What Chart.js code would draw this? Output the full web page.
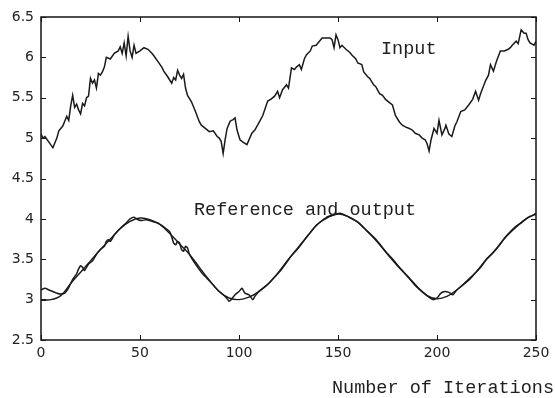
<!DOCTYPE html>
<html>
<head>
<meta charset="utf-8">
<script src="https://cdn.jsdelivr.net/npm/chart.js@4"></script>
<style>
  html, body { margin: 0; padding: 0; background: #fff; }
  #chart { display: block; }
</style>
</head>
<body>
<canvas id="chart" width="555" height="398"></canvas>
<script>
// values
const inputIterations = [
  0, 1, 2, 4, 6, 8, 9, 11, 13, 14, 15, 16, 17, 18, 19, 20, 21, 22, 23, 24,
  25, 26, 27, 28, 29, 30, 31, 32, 33, 35, 37, 39, 40, 41, 42, 43, 44, 45, 46, 47,
  48, 50, 52, 54, 56, 57, 59, 61, 62, 64, 66, 67, 68, 69, 70, 71, 72, 73, 74, 76,
  78, 80, 81, 83, 85, 87, 89, 90, 91, 92, 93, 94, 95.5, 97, 98, 99, 100.5, 102, 104, 106.5,
  108, 110.5, 112, 114.5, 116, 118, 119.5, 120.5, 122, 124, 125, 126.5, 128, 129, 130.5, 131.5, 133, 134, 136, 137,
  139, 140, 142, 144, 146, 147, 148, 149, 150, 151, 152, 154, 156, 157, 159, 160, 162, 163, 165, 166,
  168, 169, 171, 172.5, 174, 176, 177.5, 179, 181, 182.5, 184, 186, 187.5, 189, 191, 192.5, 194, 195, 196, 197,
  198.5, 200, 201, 202.5, 204, 204.5, 206, 207.5, 209, 210, 212, 214, 216, 218, 219.5, 221, 222, 224.5, 226, 227,
  228.5, 230, 232, 234, 236, 237, 238, 240, 241, 242.5, 244, 245, 246, 247, 249, 250
];
const inputValues = [
  5.05, 5.0, 5.02, 4.95, 4.88, 5.0, 5.09, 5.15, 5.27, 5.22, 5.4, 5.53, 5.38, 5.42, 5.35, 5.3, 5.43, 5.4, 5.5, 5.52,
  5.74, 5.68, 5.72, 5.62, 5.8, 5.78, 5.82, 5.88, 6.0, 5.98, 6.05, 6.08, 6.13, 6.05, 6.18, 6.02, 6.26, 6.08, 6.0, 6.15,
  6.05, 6.08, 6.12, 6.1, 6.05, 6.02, 5.95, 5.88, 5.83, 5.76, 5.68, 5.75, 5.72, 5.84, 5.78, 5.74, 5.79, 5.62, 5.53, 5.45,
  5.33, 5.2, 5.16, 5.12, 5.08, 5.09, 5.02, 5.0, 4.96, 4.81, 4.98, 5.12, 5.21, 5.23, 5.25, 5.1, 4.98, 4.95, 4.92, 5.06,
  5.1, 5.21, 5.28, 5.46, 5.48, 5.52, 5.58, 5.5, 5.6, 5.66, 5.62, 5.87, 5.85, 5.88, 5.91, 5.85, 5.98, 6.03, 6.08, 6.14,
  6.15, 6.18, 6.24, 6.24, 6.24, 6.22, 6.12, 6.28, 6.22, 6.12, 6.15, 6.1, 6.06, 6.03, 5.98, 5.93, 5.91, 5.82, 5.76, 5.74,
  5.66, 5.64, 5.55, 5.53, 5.48, 5.44, 5.41, 5.28, 5.2, 5.16, 5.14, 5.12, 5.1, 5.06, 5.04, 5.0, 4.98, 4.93, 4.84, 4.98,
  5.12, 5.06, 5.22, 5.04, 5.12, 5.16, 5.05, 5.02, 5.15, 5.2, 5.33, 5.35, 5.41, 5.48, 5.58, 5.47, 5.55, 5.71, 5.78, 5.91,
  5.83, 5.95, 6.08, 6.08, 6.1, 6.12, 6.15, 6.2, 6.17, 6.34, 6.3, 6.3, 6.22, 6.18, 6.15, 6.2
];

const referenceIterations = [
  0, 5, 10, 15, 20, 25, 30, 35, 40, 45, 50, 55, 60, 65, 70, 75, 80, 85, 90, 95,
  100, 105, 110, 115, 120, 125, 130, 135, 140, 145, 150, 155, 160, 165, 170, 175, 180, 185, 190, 195,
  200, 205, 210, 215, 220, 225, 230, 235, 240, 245, 250
];
const referenceValues = [
  3.0, 3.0, 3.05, 3.2, 3.34, 3.48, 3.62, 3.75, 3.88, 3.97, 4.01, 3.99, 3.93, 3.82, 3.69, 3.56, 3.4, 3.24, 3.1, 3.02,
  3.0, 3.03, 3.1, 3.2, 3.34, 3.5, 3.64, 3.8, 3.94, 4.02, 4.06, 4.03, 3.96, 3.84, 3.71, 3.56, 3.42, 3.29, 3.15, 3.05,
  3.01, 3.04, 3.12, 3.23, 3.35, 3.5, 3.63, 3.78, 3.9, 4.0, 4.06
];

const outputIterations = [
  0, 2, 4, 6, 8, 10, 12, 14, 16, 18, 19, 20, 21, 22, 24, 26, 28, 30, 32, 33,
  34, 35, 37, 40, 43, 45, 47, 49, 51, 53, 56, 59, 62, 65, 66, 67, 68, 69, 70, 71,
  72, 73, 74, 75, 78, 81, 84, 87, 90, 93, 95, 96, 98, 100, 101.5, 103, 105, 107, 108, 110,
  112, 115, 118, 121, 124, 127, 130, 133, 136, 139, 142, 145, 148, 151, 154, 157, 160, 163, 166, 169,
  172, 175, 178, 181, 184, 187, 190, 193, 196, 198, 200, 202, 204, 206, 208, 210, 213, 216, 219, 222,
  225, 228, 231, 234, 237, 240, 243, 246, 248, 250
];
const outputValues = [
  3.12, 3.14, 3.12, 3.1, 3.08, 3.07, 3.08, 3.15, 3.25, 3.32, 3.38, 3.42, 3.4, 3.36, 3.44, 3.48, 3.56, 3.62, 3.66, 3.72,
  3.74, 3.72, 3.8, 3.88, 3.95, 4.0, 4.02, 3.99, 3.98, 3.99, 3.97, 3.95, 3.9, 3.84, 3.78, 3.7, 3.68, 3.72, 3.7, 3.62,
  3.6, 3.66, 3.64, 3.56, 3.44, 3.34, 3.26, 3.18, 3.1, 3.04, 2.98, 3.0, 3.06, 3.1, 3.14, 3.08, 3.06, 3.0, 3.04, 3.1,
  3.14, 3.2, 3.28, 3.36, 3.46, 3.56, 3.65, 3.74, 3.83, 3.92, 3.98, 4.03, 4.05, 4.07, 4.04, 4.0, 3.96, 3.89, 3.82, 3.75,
  3.66, 3.57, 3.49, 3.4, 3.32, 3.24, 3.16, 3.09, 3.03, 3.0, 3.02, 3.08, 3.1, 3.09, 3.06, 3.12, 3.18, 3.24, 3.32, 3.4,
  3.5, 3.57, 3.66, 3.76, 3.84, 3.91, 3.96, 4.02, 4.04, 4.07
];

const xTicks = [0, 50, 100, 150, 200, 250];
const yTicks = [2.5, 3, 3.5, 4, 4.5, 5, 5.5, 6, 6.5];
const yTickLabels = ["2.5", "3", "3.5", "4", "4.5", "5", "5.5", "6", "6.5"];

const toPoints = (xs, ys) => xs.map((x, i) => ({ x: x, y: ys[i] }));

// box round the plot, inward tick marks and the typed labels
const frameAndLabels = {
  id: "frameAndLabels",
  afterDraw(chart) {
    const { ctx, chartArea: a, scales } = chart;
    ctx.save();
    ctx.strokeStyle = "#151515";
    ctx.lineWidth = 1.5;
    ctx.strokeRect(a.left, a.top, a.right - a.left, a.bottom - a.top);

    ctx.lineWidth = 1;
    ctx.beginPath();
    xTicks.forEach((v) => {
      const px = Math.round(scales.x.getPixelForValue(v)) + 0.5;
      ctx.moveTo(px, a.bottom);
      ctx.lineTo(px, a.bottom - 5);
      ctx.moveTo(px, a.top);
      ctx.lineTo(px, a.top + 5);
    });
    yTicks.forEach((v) => {
      const py = Math.round(scales.y.getPixelForValue(v)) + 0.5;
      ctx.moveTo(a.left, py);
      ctx.lineTo(a.left + 5, py);
      ctx.moveTo(a.right, py);
      ctx.lineTo(a.right - 5, py);
    });
    ctx.stroke();

    ctx.fillStyle = "#1e1e1e";
    ctx.font = '18.5px "Liberation Mono", "DejaVu Sans Mono", monospace';
    ctx.textBaseline = "alphabetic";
    ctx.textAlign = "left";
    ctx.fillText("Input", 381, 54);
    ctx.fillText("Reference and output", 194, 215);
    ctx.textAlign = "right";
    ctx.fillText("Number of Iterations", 554, 393);
    ctx.restore();
  },
};

const ctx = document.getElementById("chart").getContext("2d");
new Chart(ctx, {
  type: "line",
  data: {
    datasets: [
      {
        label: "Input",
        data: toPoints(inputIterations, inputValues),
        borderColor: "#1a1a1a",
        borderWidth: 1.5,
        pointRadius: 0,
        tension: 0,
      },
      {
        label: "Reference",
        data: toPoints(referenceIterations, referenceValues),
        borderColor: "#1a1a1a",
        borderWidth: 1.4,
        pointRadius: 0,
        tension: 0.4,
      },
      {
        label: "Output",
        data: toPoints(outputIterations, outputValues),
        borderColor: "#1a1a1a",
        borderWidth: 1.5,
        pointRadius: 0,
        tension: 0.2,
      },
    ],
  },
  options: {
    responsive: false,
    animation: false,
    layout: {
      autoPadding: false,
      padding: { left: 0, right: 19, top: 17, bottom: 0 },
    },
    plugins: {
      legend: { display: false },
      tooltip: { enabled: false },
    },
    scales: {
      x: {
        type: "linear",
        min: 0,
        max: 250,
        afterFit: (scale) => {
          scale.height = 58;
        },
        afterBuildTicks: (scale) => {
          scale.ticks = xTicks.map((v) => ({ value: v }));
        },
        grid: { display: false, drawTicks: false },
        border: { display: false },
        ticks: {
          padding: 5,
          maxRotation: 0,
          color: "#222",
          font: { family: "DejaVu Sans", size: 14 },
        },
      },
      y: {
        type: "linear",
        min: 2.5,
        max: 6.5,
        afterFit: (scale) => {
          scale.width = 41;
        },
        afterBuildTicks: (scale) => {
          scale.ticks = yTicks.map((v) => ({ value: v }));
        },
        grid: { display: false, drawTicks: false },
        border: { display: false },
        ticks: {
          padding: 7,
          color: "#222",
          font: { family: "DejaVu Sans", size: 14 },
          callback: (value) => yTickLabels[yTicks.indexOf(value)],
        },
      },
    },
  },
  plugins: [frameAndLabels],
});
</script>
</body>
</html>
